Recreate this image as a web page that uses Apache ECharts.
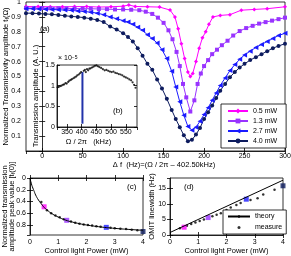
<!DOCTYPE html>
<html><head><meta charset="utf-8">
<script src="https://cdn.jsdelivr.net/npm/echarts@6/dist/echarts.min.js"></script>
<style>html,body{margin:0;padding:0;background:#fff}#c{width:291px;height:256px}</style>
</head><body><div id="c"></div>
<script>
// ---- (a) main panel data: detuning (Hz) vs normalized transmissivity ----
const det05 = [-20,-5,10,25,40,55,70,85,100,107,115,130,145,158,164,168,172,176,180,183,186,190,194,198,202,206,211,220,232,246,262,278,300];
const amp05 = [0.97,0.97,0.968,0.968,0.969,0.97,0.966,0.968,0.972,0.98,0.97,0.968,0.966,0.946,0.9,0.82,0.72,0.62,0.53,0.5,0.52,0.6,0.69,0.76,0.8,0.85,0.9,0.91,0.915,0.945,0.95,0.955,0.968];
const det13 = [-20,-10,0,10,20,30,40,50,60,70,80,90,100,110,120,128,136,143,150,156,161,166,170,174,178,183,188,192,196,200,205,210,216,222,229,236,244,252,260,268,276,284,292,300];
const amp13 = [0.96,0.96,0.96,0.958,0.958,0.957,0.956,0.955,0.955,0.953,0.952,0.95,0.95,0.948,0.945,0.935,0.92,0.895,0.86,0.81,0.75,0.665,0.57,0.45,0.36,0.265,0.34,0.45,0.52,0.57,0.61,0.65,0.68,0.71,0.74,0.775,0.805,0.825,0.84,0.855,0.865,0.875,0.885,0.895];
const det27 = [-20,-12,-4,4,12,20,28,36,44,52,60,68,76,84,92,100,106,112,118,124,130,136,142,148,154,160,165,170,175,180,185,190,195,200,205,210,215,220,226,232,238,244,250,257,264,271,278,285,292,300];
const amp27 = [0.955,0.955,0.953,0.952,0.95,0.948,0.946,0.944,0.94,0.936,0.932,0.925,0.915,0.9,0.888,0.875,0.865,0.85,0.83,0.81,0.78,0.755,0.725,0.68,0.62,0.535,0.43,0.33,0.24,0.165,0.14,0.16,0.2,0.245,0.29,0.34,0.39,0.44,0.49,0.54,0.58,0.615,0.645,0.67,0.695,0.715,0.735,0.755,0.775,0.79];
const det40 = [-20,-12,-4,4,12,20,28,36,44,52,60,68,76,84,92,100,106,112,118,124,130,136,142,148,154,160,165,170,175,180,185,190,195,200,205,210,215,220,226,232,238,244,250,257,264,271,278,285,292,300];
const amp40 = [0.925,0.925,0.922,0.92,0.917,0.913,0.908,0.903,0.9,0.895,0.888,0.88,0.865,0.835,0.815,0.79,0.765,0.735,0.69,0.64,0.585,0.545,0.48,0.42,0.35,0.275,0.215,0.16,0.105,0.065,0.075,0.11,0.155,0.215,0.26,0.305,0.355,0.405,0.45,0.495,0.53,0.56,0.585,0.61,0.63,0.65,0.67,0.69,0.705,0.72];
const seriesNames = ['0.5 mW','1.3 mW','2.7 mW','4.0 mW'];

// ---- (b) inset: transmission spectrum (x 1e-5) ----
const insetFreq = [318,322,327,331,336,340,345,349,354,358,363,367,372,376,381,385,390,394,398,407,411,414,418,422,426,430,435,440,445,450,455,460,466,472,478,484,490,496,502,508,514,520,526,532,538,544,550,556,562,568,573,578,583];
const insetAmp = [0.96,0.97,0.99,1.0,1.02,1.03,1.06,1.05,1.09,1.12,1.14,1.16,1.18,1.2,1.22,1.25,1.27,1.3,1.33,1.36,1.38,1.33,1.4,1.37,1.41,1.42,1.44,1.46,1.48,1.49,1.47,1.45,1.43,1.4,1.37,1.38,1.36,1.34,1.33,1.34,1.31,1.3,1.28,1.27,1.25,1.22,1.2,1.18,1.15,1.13,1.08,1.02,0.95];
const dipFreq = [402.5,402.5];
const dipAmp = [0.08,1.33];

// ---- (c) peak value vs power ----
const powerTheoryC = [0,0.05,0.1,0.15,0.2,0.3,0.4,0.5,0.6,0.8,1,1.25,1.5,1.75,2,2.5,3,3.5,4];
const peakTheoryC = [0,0.1,0.17,0.23,0.29,0.375,0.44,0.5,0.545,0.615,0.665,0.715,0.75,0.777,0.8,0.833,0.857,0.875,0.89];
const powerMeasC = [0.4,0.6,0.75,0.9,1.05,1.2,1.45,1.6,1.75,1.9,2.05,2.2,2.35,2.5,2.85,3.0,3.2,3.4,3.6,3.8];
const peakMeasC = [0.41,0.55,0.6,0.64,0.67,0.7,0.74,0.76,0.78,0.79,0.8,0.81,0.82,0.83,0.845,0.855,0.865,0.87,0.88,0.89];
const powerMarked = [0.5,1.3,2.7,4.0];
const peakMarked = [0.49,0.72,0.84,0.91];

// ---- (d) OMIT linewidth vs power ----
const powerTheoryD = [0,4];
const widthTheoryD = [0.8,17.6];
const powerMeasD = [0.35,0.6,0.75,0.9,1.05,1.2,1.5,1.65,1.8,2.0,2.15,2.35,2.5,2.85,3.1,3.3,3.7];
const widthMeasD = [2.2,3.0,3.5,4.0,4.5,5.0,6.0,6.5,7.0,8.0,8.8,9.6,10.3,11.2,11.8,13.0,14.5];
const powerMarkedD = [0.5,1.35,2.7,4.0];
const widthMarkedD = [2.5,5.6,11.5,15.8];

const colors = ['#ff00ff','#9933ff','#1a1aff','#0d1b5e'];
const symbols = ['diamond','rect','triangle','circle'];
const FONT = 'Liberation Sans, Arial, sans-serif';
const zip = (a,b) => a.map((v,i)=>[v,b[i]]);

const tick = {inside:true, length:3, lineStyle:{color:'#000',width:0.8}};
const axLine = {lineStyle:{color:'#000',width:0.8}};
const lab = (m) => ({fontSize:7, color:'#000', fontFamily:FONT, margin:m});
const nameStyle = {fontSize:7.5, color:'#000', fontFamily:FONT, rich:{s:{fontSize:5.5, verticalAlign:'bottom', fontFamily:FONT, color:'#000'}}};

const mainDet = [det05,det13,det27,det40];
const mainAmp = [amp05,amp13,amp27,amp40];
const series = [];
for (let i=0;i<4;i++){
  series.push({name:seriesNames[i], type:'line', xAxisIndex:0, yAxisIndex:0, data:zip(mainDet[i],mainAmp[i]),
    symbol:symbols[i], symbolSize: i===2?5:4, symbolRotate: i===2?90:0, showAllSymbol:true,
    lineStyle:{width:1,color:colors[i]}, itemStyle:{color:colors[i]}, z:2, animation:false});
}
series.push({type:'scatter', xAxisIndex:1, yAxisIndex:1, data:zip(insetFreq,insetAmp), symbolSize:2.2, itemStyle:{color:'#000'}, z:7, animation:false});
series.push({type:'line', xAxisIndex:1, yAxisIndex:1, data:zip(dipFreq,dipAmp), symbol:'none', lineStyle:{width:2,color:'#2233aa'}, z:7, animation:false});
series.push({type:'line', xAxisIndex:2, yAxisIndex:2, data:zip(powerTheoryC,peakTheoryC), smooth:true, symbol:'none', lineStyle:{width:1,color:'#000'}, animation:false});
series.push({type:'scatter', xAxisIndex:2, yAxisIndex:2, data:zip(powerMeasC,peakMeasC), symbolSize:2.5, itemStyle:{color:'#000'}, animation:false});
for (let i=0;i<4;i++){
  series.push({type:'scatter', xAxisIndex:2, yAxisIndex:2, data:[[powerMarked[i],peakMarked[i]]], symbol:'rect', symbolSize:5, itemStyle:{color:colors[i]}, animation:false});
}
series.push({name:'theory', type:'line', xAxisIndex:3, yAxisIndex:3, data:zip(powerTheoryD,widthTheoryD), symbol:'none', lineStyle:{width:1,color:'#000'}, itemStyle:{color:'#000'}, animation:false});
series.push({name:'measure', type:'scatter', xAxisIndex:3, yAxisIndex:3, data:zip(powerMeasD,widthMeasD), symbolSize:2.5, itemStyle:{color:'#000'}, animation:false});
for (let i=0;i<4;i++){
  series.push({type:'scatter', xAxisIndex:3, yAxisIndex:3, data:[[powerMarkedD[i],widthMarkedD[i]]], symbol:'rect', symbolSize:5, itemStyle:{color:colors[i]}, animation:false});
}

const gridBase = {show:true, borderColor:'#000', borderWidth:0.8, containLabel:false, outerBoundsMode:'none'};
const xMain = [
    {gridIndex:0, type:'value', min:-20, max:300, splitNumber:6, axisLine:axLine, axisTick:tick, splitLine:{show:false},
     axisLabel:Object.assign(lab(2),{showMinLabel:false}),
     name:'Δ f  (Hz)=(Ω / 2π – 402.50kHz)', nameLocation:'middle', nameGap:10, nameMoveOverlap:false, nameTextStyle:Object.assign({},nameStyle,{padding:[0,0,0,17]})},
    {gridIndex:1, type:'value', min:316, max:588, splitNumber:5, axisLine:axLine, axisTick:tick, splitLine:{show:false}, z:6,
     axisLabel:Object.assign(lab(2),{showMinLabel:false, showMaxLabel:false}),
     name:'Ω / 2π   (kHz)', nameLocation:'middle', nameGap:11, nameMoveOverlap:false, nameTextStyle:Object.assign({},nameStyle,{padding:[0,17,0,0]})},
    {gridIndex:2, type:'value', min:0, max:4, interval:1, axisLine:axLine, axisTick:tick, splitLine:{show:false},
     axisLabel:lab(4), name:'Control light Power (mW)', nameLocation:'middle', nameGap:12, nameMoveOverlap:false, nameTextStyle:nameStyle},
    {gridIndex:3, type:'value', min:0, max:4, interval:1, axisLine:axLine, axisTick:tick, splitLine:{show:false},
     axisLabel:lab(4), name:'Control light Power (mW)', nameLocation:'middle', nameGap:12, nameMoveOverlap:false, nameTextStyle:nameStyle}
];
const yMain = [
    {gridIndex:0, type:'value', min:0, max:1, interval:0.1, axisLine:axLine, axisTick:tick, splitLine:{show:false},
     axisLabel:Object.assign(lab(5),{showMinLabel:false}),
     name:'Normalized Transmissivity amplitude t{s|f}(Ω)', nameLocation:'middle', nameGap:16, nameMoveOverlap:false, nameTextStyle:nameStyle},
    {gridIndex:1, type:'value', min:0, max:1.5, interval:0.5, axisLine:axLine, axisTick:tick, splitLine:{show:false}, z:6,
     axisLabel:lab(2),
     name:'Transmission amplitude (A. U.)', nameLocation:'middle', nameGap:17, nameMoveOverlap:false, nameTextStyle:nameStyle},
    {gridIndex:2, type:'value', min:0, max:0.97, interval:0.2, inverse:true, axisLine:axLine, axisTick:tick, splitLine:{show:false},
     axisLabel:Object.assign(lab(4),{showMaxLabel:false}),
     name:'Normalized transmission\namplitude peak value [t{s|f}(0)]', nameLocation:'middle', nameGap:14, nameMoveOverlap:false, nameTextStyle:Object.assign({},nameStyle,{lineHeight:7.5})},
    {gridIndex:3, type:'value', min:0, max:18.3, interval:5, axisLine:axLine, axisTick:tick, splitLine:{show:false},
     axisLabel:Object.assign(lab(4),{showMaxLabel:false}),
     name:'OMIT linewidth (Hz)', nameLocation:'middle', nameGap:14, nameMoveOverlap:false, nameTextStyle:nameStyle}
];
// mirrored tick-only axes on top / right (box style)
const mirror = (a, pos) => ({gridIndex:a.gridIndex, type:'value', min:a.min, max:a.max, interval:a.interval, splitNumber:a.splitNumber,
  inverse:a.inverse, position:pos, z:a.z, axisLine:{show:false}, axisTick:tick, axisLabel:{show:false}, splitLine:{show:false}});
const option = {
  animation:false,
  textStyle:{fontFamily:FONT},
  grid:[
    Object.assign({left:26, top:2, width:259, height:149, backgroundColor:'transparent'}, gridBase),
    Object.assign({left:57, top:65, width:80, height:62, backgroundColor:'#fff', z:5}, gridBase),
    Object.assign({left:30, top:178, width:113, height:57, backgroundColor:'transparent'}, gridBase),
    Object.assign({left:170, top:178, width:113, height:57, backgroundColor:'transparent'}, gridBase)
  ],
  xAxis: xMain.concat(xMain.map(a=>mirror(a,'top'))),
  yAxis: yMain.concat(yMain.map(a=>mirror(a,'right'))),
  legend:[
    {data:seriesNames, orient:'vertical', left:221, top:104, backgroundColor:'#fff', borderColor:'#000', borderWidth:0.8,
     padding:[3,9,3,6], itemGap:2, itemWidth:20, itemHeight:6, textStyle:{fontSize:7, color:'#000', fontFamily:FONT, lineHeight:8}, z:10},
    {data:['theory','measure'], orient:'vertical', left:223, top:210, backgroundColor:'#fff', borderColor:'#000', borderWidth:0.8,
     padding:[2,4,2,4], itemGap:2, itemWidth:22, itemHeight:3, textStyle:{fontSize:7, color:'#000', fontFamily:FONT, lineHeight:9}, z:10}
  ],
  graphic:[
    {type:'text', left:40, top:25, style:{text:'(a)', fontSize:8, fill:'#000', fontFamily:FONT}},
    {type:'text', left:113, top:107, z:20, style:{text:'(b)', fontSize:8, fill:'#000', fontFamily:FONT}},
    {type:'text', left:127, top:183, style:{text:'(c)', fontSize:8, fill:'#000', fontFamily:FONT}},
    {type:'text', left:184, top:183, style:{text:'(d)', fontSize:8, fill:'#000', fontFamily:FONT}},
    {type:'text', left:58, top:55, z:20, style:{text:'{a|× 10}{b|−5}', fill:'#000', fontFamily:FONT,
      rich:{a:{fontSize:7, fontFamily:FONT}, b:{fontSize:5, verticalAlign:'top', fontFamily:FONT}}}}
  ],
  series:series
};
const chart = echarts.init(document.getElementById('c'), null, {renderer:'canvas'});
chart.setOption(option);
</script></body></html>
